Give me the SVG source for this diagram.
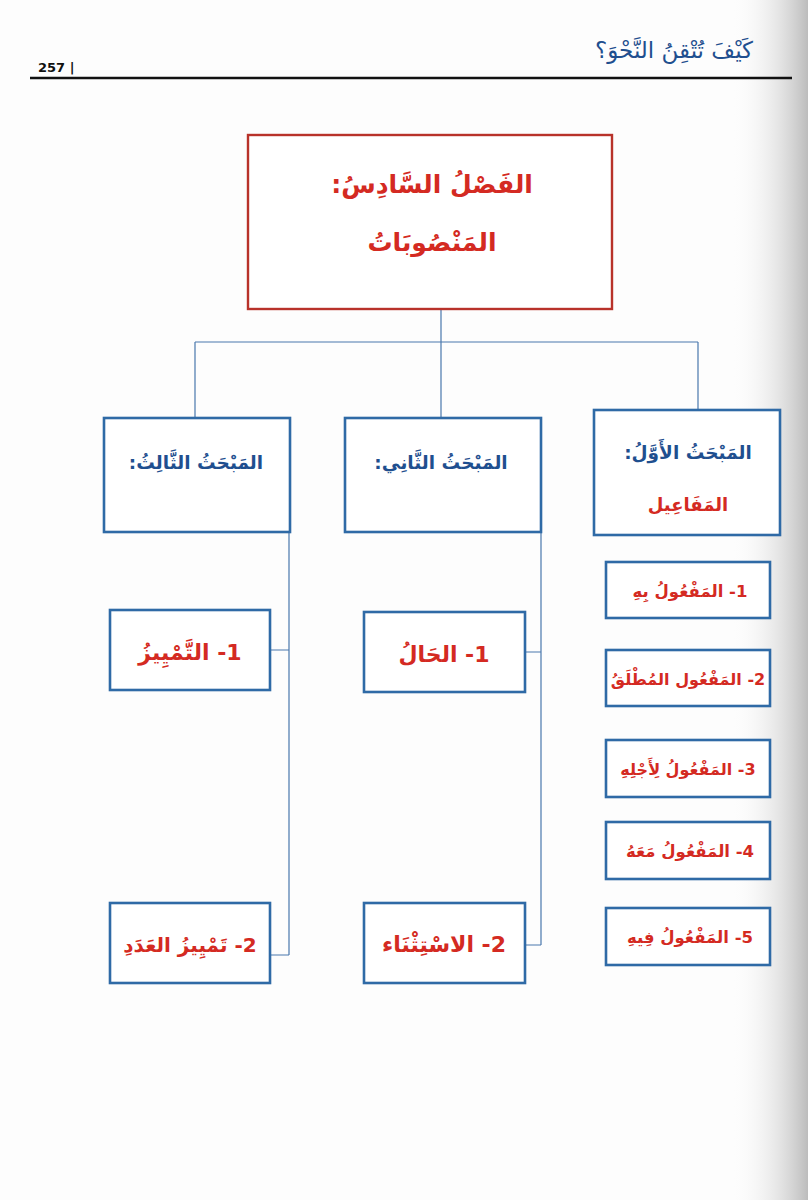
<svg xmlns="http://www.w3.org/2000/svg" width="808" height="1200" viewBox="0 0 808 1200">
<defs>
<linearGradient id="shade" x1="0" y1="0" x2="1" y2="0">
<stop offset="0" stop-color="#ffffff" stop-opacity="0"/>
<stop offset="0.6" stop-color="#d8d8d8" stop-opacity="0.6"/>
<stop offset="1" stop-color="#b5b5b5" stop-opacity="0.9"/>
</linearGradient>
</defs>
<style>
text{font-family:"DejaVu Sans","Noto Sans",sans-serif;font-weight:bold;}
.ar{direction:rtl;text-anchor:middle;}
.red{fill:#d42a22;}
.blue{fill:#1f4f8f;}
.bbox{fill:#ffffff;stroke:#2f6aa6;stroke-width:2.6;}
.rbox{fill:#ffffff;stroke:#b8322a;stroke-width:2.4;}
.conn{fill:none;stroke:#4a78ad;stroke-width:1.2;}
</style>
<rect x="0" y="0" width="808" height="1200" fill="#fdfdfd"/>
<rect x="730" y="0" width="78" height="1200" fill="url(#shade)"/>

<g id="header">
<text x="674" y="58" class="ar blue" font-size="23" style="font-weight:normal">كَيْفَ تُتْقِنُ النَّحْوَ؟</text>
<text x="38" y="72" font-size="13" fill="#111">257 |</text>
<line x1="30" y1="78" x2="792" y2="78" stroke="#111" stroke-width="2.5"/>
</g>

<g id="connectors">
<path class="conn" d="M441 309 V342 M195 342 H698 M195 342 V418 M441 342 V418 M698 342 V410"/>
<path class="conn" d="M289 532 V955 M270 650 H289 M270 955 H289"/>
<path class="conn" d="M541 532 V945 M525 652 H541 M525 945 H541"/>
</g>

<g id="root">
<rect class="rbox" x="248" y="135" width="364" height="174"/>
<text x="432" y="193" class="ar red" font-size="25">الفَصْلُ السَّادِسُ:</text>
<text x="432" y="251" class="ar red" font-size="25">المَنْصُوبَاتُ</text>
</g>

<g id="mabhath3">
<rect class="bbox" x="104" y="418" width="186" height="114"/>
<text x="196" y="469" class="ar blue" font-size="18.5">المَبْحَثُ الثَّالِثُ:</text>
</g>
<g id="mabhath2">
<rect class="bbox" x="345" y="418" width="196" height="114"/>
<text x="441" y="469" class="ar blue" font-size="18.5">المَبْحَثُ الثَّانِي:</text>
</g>
<g id="mabhath1">
<rect class="bbox" x="594" y="410" width="186" height="125"/>
<text x="688" y="459" class="ar blue" font-size="18.5">المَبْحَثُ الأَوَّلُ:</text>
<text x="688" y="511" class="ar red" font-size="18">المَفَاعِيل</text>
</g>

<g id="tamyiz">
<rect class="bbox" x="110" y="610" width="160" height="80"/>
<text x="190" y="660" class="ar red" font-size="22">1- التَّمْيِيزُ</text>
</g>
<g id="tamyiz-adad">
<rect class="bbox" x="110" y="903" width="160" height="80"/>
<text x="190" y="952" class="ar red" font-size="20">2- تَمْيِيزُ العَدَدِ</text>
</g>
<g id="hal">
<rect class="bbox" x="364" y="612" width="161" height="80"/>
<text x="444" y="662" class="ar red" font-size="22">1- الحَالُ</text>
</g>
<g id="istithna">
<rect class="bbox" x="364" y="903" width="161" height="80"/>
<text x="444" y="952" class="ar red" font-size="22">2- الاسْتِثْنَاء</text>
</g>

<g id="maful-bih">
<rect class="bbox" x="606" y="562" width="164" height="56"/>
<text x="690" y="597" class="ar red" font-size="16.5">1- المَفْعُولُ بِهِ</text>
</g>
<g id="maful-mutlaq">
<rect class="bbox" x="606" y="650" width="164" height="56"/>
<text x="688" y="685" class="ar red" font-size="16">2- المَفْعُول المُطْلَقُ</text>
</g>
<g id="maful-liajlih">
<rect class="bbox" x="606" y="740" width="164" height="57"/>
<text x="688" y="775" class="ar red" font-size="16">3- المَفْعُولُ لِأَجْلِهِ</text>
</g>
<g id="maful-maah">
<rect class="bbox" x="606" y="822" width="164" height="57"/>
<text x="690" y="857" class="ar red" font-size="16.5">4- المَفْعُولُ مَعَهُ</text>
</g>
<g id="maful-fih">
<rect class="bbox" x="606" y="908" width="164" height="57"/>
<text x="690" y="943" class="ar red" font-size="16.5">5- المَفْعُولُ فِيهِ</text>
</g>
</svg>
